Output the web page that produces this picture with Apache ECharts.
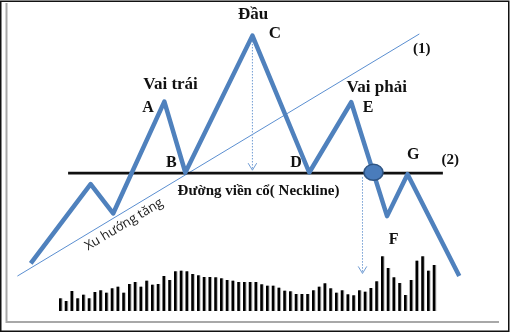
<!DOCTYPE html>
<html><head><meta charset="utf-8">
<script src="https://cdn.jsdelivr.net/npm/echarts@6/dist/echarts.min.js"></script>
<style>html,body{margin:0;padding:0;background:#fff}#c{width:512px;height:333px}</style>
</head><body><div id="c"></div>
<script>
// ---- data (schematic time units 0..100, price units 0..100) ----
const priceTimes  = [6.0, 17.7, 22.1, 32.1, 36.2, 49.3, 60.4, 68.6, 75.6, 79.6, 89.7];
const priceValues = [20.9, 44.7, 35.9, 69.5, 48.2, 89.3, 48.2, 69.3, 35.1, 47.7, 17.1];
const necklineTimes = [13.3, 86.5];
const necklineValues = [48, 48];
const trendTimes = [3.4, 81.9];
const trendValues = [17.1, 89.8];
const breakoutTime = [72.95];
const breakoutValue = [48.26];
const arrowTimes = [49.3, 70.8];
const arrowStart = [88.6, 46.8];
const arrowEnd = [48.9, 17.9];
const volumeValues = [
  12.7, 10, 20, 12.7, 16.3, 12.7, 19, 20.7, 18.3, 22.7, 24.3, 18.3, 27, 29, 24.3, 30.3, 26.3, 27, 35, 31, 39.7, 40.3, 39.7,
  37, 35.7, 34, 34, 33.7, 32.7, 31, 30.3, 29, 29, 29, 29, 26.7, 25.3, 25.3, 23.3, 20.3, 19.7, 17, 17, 17, 20.7,
  24.3, 27.7, 22.7, 18.3, 20.7, 16.7, 15.7, 20.7, 19.3, 23, 29.7, 54.7, 43, 33.7, 28, 16, 31, 50.3, 54.7, 40.3, 46
];
const volumeCategories = volumeValues.map((_, i) => 'S' + (i + 1));

const BLUE = '#4f81bd';
const serif = '"Liberation Serif", "DejaVu Serif", serif';

const chart = echarts.init(document.getElementById('c'), null, {renderer: 'canvas'});

function txt(text, x, y, size, opts) {
  opts = opts || {};
  return {
    type: 'text', z: 50,
    x: x, y: y, rotation: opts.rotation || 0,
    style: {
      text: text, fill: opts.fill || '#111',
      font: (opts.weight || 'bold') + ' ' + size + 'px ' + (opts.family || serif),
      textAlign: opts.align || 'center', textVerticalAlign: 'middle'
    }
  };
}

const option = {
  animation: false,
  backgroundColor: '#fff',
  grid: [
    {left: 0, right: 0, top: 0, bottom: 0},
    {left: 57.4, right: 75.1, top: 251, bottom: 22}
  ],
  xAxis: [
    {type: 'value', gridIndex: 0, min: 0, max: 100, show: false},
    {type: 'category', gridIndex: 1, data: volumeCategories, show: false, boundaryGap: true}
  ],
  yAxis: [
    {type: 'value', gridIndex: 0, min: 0, max: 100, show: false},
    {type: 'value', gridIndex: 1, min: 0, max: 60, show: false}
  ],
  series: [
    {
      type: 'bar', xAxisIndex: 1, yAxisIndex: 1, data: volumeValues, barWidth: 2.6,
      itemStyle: {color: '#000', shadowColor: 'rgba(0,0,0,0.3)', shadowOffsetX: 1, shadowBlur: 0}, z: 2
    },
    {
      type: 'line', data: trendTimes.map((t, i) => [t, trendValues[i]]), symbol: 'none',
      lineStyle: {color: '#5b8fd1', width: 1}, z: 3
    },
    {
      type: 'line', data: necklineTimes.map((t, i) => [t, necklineValues[i]]), symbol: 'none',
      lineStyle: {color: '#111', width: 2.6}, z: 4
    },
    {
      type: 'custom', z: 5,
      data: arrowTimes.map((t, i) => [t, arrowStart[i], arrowEnd[i]]),
      renderItem: function (params, api) {
        const s = api.coord([api.value(0), api.value(1)]);
        const e = api.coord([api.value(0), api.value(2)]);
        const st = {stroke: '#6f9bd3', lineWidth: 1, fill: null};
        return {type: 'group', children: [
          {type: 'line', shape: {x1: s[0], y1: s[1], x2: e[0], y2: e[1]}, style: Object.assign({lineDash: [1.5, 1.5]}, st)},
          {type: 'polyline', shape: {points: [[e[0] - 4.3, e[1] - 7], [e[0], e[1]], [e[0] + 4.3, e[1] - 7]]}, style: st}
        ]};
      }
    },
    {
      type: 'line', data: priceTimes.map((t, i) => [t, priceValues[i]]), symbol: 'none',
      lineStyle: {color: BLUE, width: 4.5, join: 'round', cap: 'butt'}, z: 6
    },
    {
      type: 'scatter', data: breakoutTime.map((t, i) => [t, breakoutValue[i]]),
      symbol: 'circle', symbolSize: [19, 16],
      itemStyle: {color: '#4a7cbb', borderColor: '#2f5584', borderWidth: 1.5, opacity: 1}, z: 7
    }
  ],
  graphic: [
    {type: 'rect', shape: {x: 0.75, y: 1.25, width: 508, height: 330}, style: {fill: null, stroke: '#111', lineWidth: 1.5}, z: 60},
    {type: 'polyline', shape: {points: [[6.5, 3], [6.5, 322], [499, 322]]}, style: {fill: null, stroke: '#a8a8a8', lineWidth: 2}, z: 60},
    txt('Đầu', 253, 14.5, 17),
    txt('C', 275, 34, 17),
    txt('(1)', 421.7, 49, 15),
    txt('Vai trái', 170.5, 84.5, 17),
    txt('A', 148, 108.3, 16),
    txt('B', 171.3, 163.3, 16),
    txt('D', 296, 162.7, 16),
    txt('Vai phải', 376.7, 87.5, 17),
    txt('E', 368.2, 108.3, 16),
    txt('G', 413.3, 154.7, 16),
    txt('(2)', 450.3, 160.3, 15),
    txt('F', 393.7, 240, 16),
    txt('Đường viền cổ( Neckline)', 258.5, 191, 15),
    txt('Xu hướng tăng', 124, 224.5, 13, {weight: 'normal', family: '"Open Sans", "Liberation Sans", sans-serif', rotation: Math.atan(0.602), fill: '#222'})
  ]
};
chart.setOption(option);
</script>
</body></html>
